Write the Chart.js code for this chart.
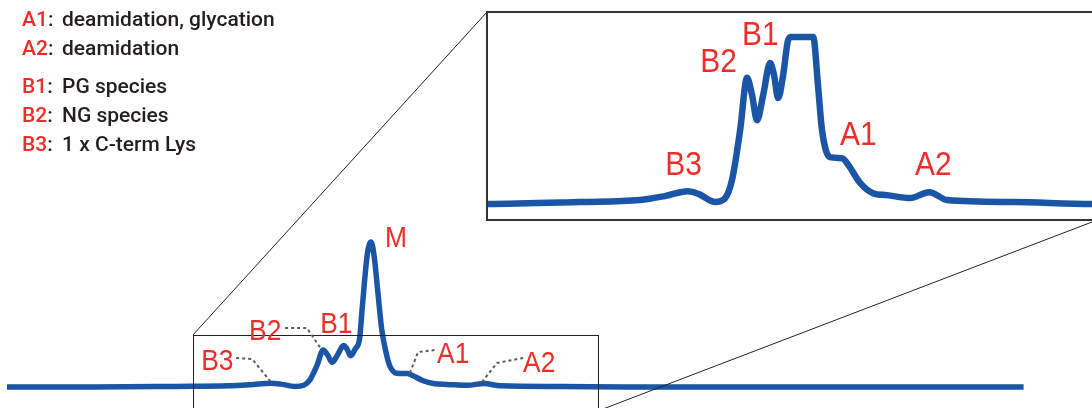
<!DOCTYPE html>
<html>
<head>
<meta charset="utf-8">
<script src="https://cdn.jsdelivr.net/npm/chart.js@4.4.1/dist/chart.umd.min.js"></script>
<style>
  html, body { margin: 0; padding: 0; background: #fff; width: 1092px; height: 408px; overflow: hidden; }
  body { position: relative; }
  #main { position: absolute; left: 0; top: 0; }
  #inset { position: absolute; left: 486px; top: 11px; }
  #legend { position: absolute; left: 22px; top: 5px; font-family: Roboto, 'Liberation Sans', Arial, sans-serif;
    font-weight: 500; font-size: 21px; line-height: 29px; color: #231f20; white-space: nowrap; }
  #legend .k { display: inline-block; width: 40px; color: #ec2d2a; }
  #legend .k span { color: #231f20; }
  #legend .gap { height: 9px; }
</style>
</head>
<body>
<canvas id="main" width="1092" height="408"></canvas>
<canvas id="inset" width="610" height="210"></canvas>
<div id="legend"></div>
<script>
// chromatogram trace (retention time, absorbance; M peak = 100)
const retentionTime = [0, 2.53, 4.95, 6.51, 7.16, 7.76, 8.05, 8.47, 8.73, 8.91, 9.12, 9.30, 9.43, 9.56, 9.72,
  9.90, 10.00, 10.11, 10.24, 10.37, 10.45, 10.60, 10.71, 10.80, 10.91, 11.02, 11.15, 11.25, 11.46, 11.77,
  11.90, 12.24, 12.58, 12.94, 13.54, 14.04, 14.51, 16.24, 18.28, 29.9];
const absorbance = [0, 0, 0.4, 0.8, 1.6, 2.6, 2.0, 0.4, 1.2, 4.9, 15.0, 25.6, 22.1, 17.0, 22.1,
  28.6, 26.2, 21.5, 26.2, 33.3, 55, 92, 100, 90, 65, 40, 23.7, 15.0, 9.5, 9.3,
  8.3, 4.3, 2.2, 1.8, 1.2, 2.4, 0.8, 0.4, 0, 0];

const legendKeys = ['A1', 'A2', 'B1', 'B2', 'B3'];
const legendText = ['deamidation, glycation', 'deamidation', 'PG species', 'NG species', '1 x C-term Lys'];

// peak labels on the full trace [text, t, y] and dotted leaders
const mainLabels = [['B3', 5.71, 11.7], ['B2', 7.12, 32.4], ['B1', 9.21, 37.2], ['M', 11.12, 96.6],
  ['A1', 12.65, 16.6], ['A2', 15.18, 10.3]];
const leaders = [
  [[6.74, 20], [7.21, 19.3], [7.74, 4.1]],
  [[8.18, 40.7], [8.82, 40.7], [9.26, 25.5]],
  [[11.85, 9.7], [12.09, 24.1], [12.59, 25.5]],
  [[13.97, 3.4], [14.41, 16.6], [15.18, 20]],
];
const insetLabels = [['B3', 7.17, 5.9], ['B2', 8.08, 26.8], ['B1', 9.17, 32.3], ['A1', 11.72, 12.0], ['A2', 13.67, 5.9]];

// zoom window marked on the full trace
const zoomT = [5.47, 17.38];
const zoomY = [-16.5, 35.9];
const insetCap = 33.9;

const BLUE = '#1b55a6';
const RED = '#ec2d2a';

// legend
const legendEl = document.getElementById('legend');
legendKeys.forEach((k, i) => {
  if (i === 2) {
    const g = document.createElement('div');
    g.className = 'gap';
    legendEl.appendChild(g);
  }
  const row = document.createElement('div');
  row.innerHTML = '<span class="k">' + k + '<span>:</span></span>' + legendText[i];
  legendEl.appendChild(row);
});

function drawLabel(ctx, text, x, y, size) {
  ctx.save();
  ctx.font = size + 'px "Liberation Sans", Arial, sans-serif';
  ctx.fillStyle = RED;
  ctx.textBaseline = 'alphabetic';
  ctx.translate(x, y);
  ctx.scale(0.88, 1);
  ctx.fillText(text, 0, 0);
  ctx.restore();
}

const points = retentionTime.map((t, i) => ({ x: t, y: absorbance[i] }));

const mainOverlay = {
  id: 'mainOverlay',
  afterDatasetsDraw(chart) {
    const { ctx } = chart;
    const xs = chart.scales.x;
    const ys = chart.scales.y;
    const l = xs.getPixelForValue(zoomT[0]);
    const r = xs.getPixelForValue(zoomT[1]);
    const t = ys.getPixelForValue(zoomY[1]);
    const b = ys.getPixelForValue(zoomY[0]);
    ctx.save();
    ctx.strokeStyle = '#222';
    ctx.lineWidth = 1;
    ctx.strokeRect(Math.round(l) + 0.5, Math.round(t) + 0.5, Math.round(r - l), Math.round(b - t));
    // connectors to the inset
    ctx.beginPath();
    ctx.moveTo(l, t);
    ctx.lineTo(487, 12);
    ctx.moveTo(r, b);
    ctx.lineTo(1092, 222);
    ctx.stroke();
    // leaders
    ctx.strokeStyle = '#5a5a5a';
    ctx.lineWidth = 2;
    ctx.setLineDash([3, 3]);
    leaders.forEach((pts) => {
      ctx.beginPath();
      pts.forEach((p, i) => {
        const px = xs.getPixelForValue(p[0]);
        const py = ys.getPixelForValue(p[1]);
        if (i === 0) ctx.moveTo(px, py); else ctx.lineTo(px, py);
      });
      ctx.stroke();
    });
    ctx.restore();
    mainLabels.forEach((lb) => drawLabel(ctx, lb[0], xs.getPixelForValue(lb[1]), ys.getPixelForValue(lb[2]), 30));
  },
};

const mainChart = new Chart(document.getElementById('main').getContext('2d'), {
  type: 'line',
  data: {
    datasets: [{
      data: points,
      borderColor: BLUE,
      borderWidth: 5.5,
      pointRadius: 0,
      fill: false,
      cubicInterpolationMode: 'monotone',
      borderJoinStyle: 'round',
    }],
  },
  options: {
    responsive: false,
    animation: false,
    events: [],
    layout: { padding: 0 },
    plugins: { legend: { display: false }, tooltip: { enabled: false } },
    scales: {
      x: { type: 'linear', min: -0.2059, max: 31.912, display: false },
      y: { min: -14.48, max: 266.9, display: false },
    },
  },
  plugins: [mainOverlay],
});

const insetOverlay = {
  id: 'insetOverlay',
  beforeDraw(chart) {
    const { ctx } = chart;
    ctx.save();
    ctx.fillStyle = '#fff';
    ctx.fillRect(0, 0, chart.width, chart.height);
    ctx.restore();
  },
  afterDatasetsDraw(chart) {
    const { ctx } = chart;
    const xs = chart.scales.x;
    const ys = chart.scales.y;
    insetLabels.forEach((lb) => drawLabel(ctx, lb[0], xs.getPixelForValue(lb[1]), ys.getPixelForValue(lb[2]), 34));
    ctx.save();
    ctx.strokeStyle = '#333';
    ctx.lineWidth = 2;
    ctx.strokeRect(1, 1, chart.width + 10, chart.height - 2);
    ctx.restore();
  },
};

const insetChart = new Chart(document.getElementById('inset').getContext('2d'), {
  type: 'line',
  data: {
    datasets: [{
      data: points.map((p) => ({ x: p.x, y: Math.min(p.y, insetCap) })),
      borderColor: BLUE,
      borderWidth: 6.5,
      pointRadius: 0,
      fill: false,
      cubicInterpolationMode: 'monotone',
      borderJoinStyle: 'round',
    }],
  },
  options: {
    responsive: false,
    animation: false,
    events: [],
    layout: { padding: 0 },
    plugins: { legend: { display: false }, tooltip: { enabled: false } },
    scales: {
      x: { type: 'linear', min: 2.507, max: 18.38, display: false },
      y: { min: -3.45, max: 39.15, display: false },
    },
  },
  plugins: [insetOverlay],
});
</script>
</body>
</html>
